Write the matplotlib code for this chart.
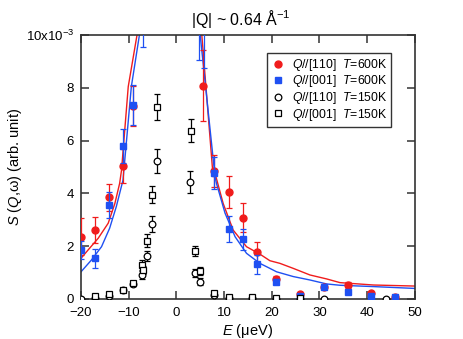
import matplotlib
matplotlib.use("Agg")
import matplotlib.pyplot as plt
from matplotlib.lines import Line2D

plt.rcParams["font.family"] = ["Liberation Sans", "DejaVu Sans"]
plt.rcParams["mathtext.fontset"] = "custom"
plt.rcParams["mathtext.rm"] = "Liberation Sans"
plt.rcParams["mathtext.it"] = "Liberation Sans:italic"

red = "#f01c1c"
blue = "#1f50f2"

# T=600K, Q//[110]
e_r110 = [-20, -17.1, -14.1, -11.1, -9.2, 5.6, 7.9, 11.0, 13.9, 17.0, 20.9, 25.9, 31.0, 36.0, 40.8, 45.8]
s_r110 = [2.36, 2.61, 3.85, 5.04, 7.3, 8.08, 4.85, 4.05, 3.08, 1.77, 0.77, 0.18, 0.44, 0.53, 0.22, 0.07]
d_r110 = [0.7, 0.5, 0.5, 0.65, 0.75, 1.35, 0.6, 0.6, 0.55, 0.4, 0.1, 0.05, 0.08, 0.1, 0.06, 0.03]

# T=600K, Q//[001]
e_b001 = [-20, -17.1, -14.1, -11.1, -9.0, -7.1, 4.7, 5.7, 7.9, 11.0, 13.9, 17.0, 20.9, 25.9, 31.0, 36.0, 40.8, 45.8]
s_b001 = [1.86, 1.54, 3.56, 5.8, 7.35, 11.0, 11.0, 10.2, 4.77, 2.64, 2.26, 1.31, 0.66, 0.11, 0.44, 0.28, 0.13, 0.07]
d_b001 = [0.35, 0.35, 0.5, 0.65, 0.75, 1.45, 1.95, 1.45, 0.6, 0.5, 0.4, 0.35, 0.08, 0.04, 0.06, 0.06, 0.04, 0.03]

# T=150K, Q//[110]
e_o110 = [-20, -17.1, -14.1, -11.1, -9.0, -7.2, -6.2, -5.1, -4.1, 2.85, 3.9, 4.95, 7.9, 11.0, 15.8, 20.9, 25.9, 31.0, 43.9]
s_o110 = [0.0, 0.05, 0.1, 0.34, 0.56, 0.91, 1.63, 2.83, 5.24, 4.44, 0.97, 0.66, 0.15, 0.05, 0.05, 0.0, 0.0, 0.0, 0.0]
d_o110 = [0.03, 0.04, 0.05, 0.06, 0.07, 0.15, 0.2, 0.3, 0.45, 0.42, 0.15, 0.12, 0.06, 0.04, 0.04, 0.02, 0.02, 0.02, 0.02]

# T=150K, Q//[001]
e_o001 = [-17.1, -14.1, -11.1, -9.0, -7.3, -7.0, -6.2, -5.1, -4.1, 3.0, 3.9, 4.95, 7.9, 11.0, 15.8, 20.9, 25.9]
s_o001 = [0.11, 0.19, 0.35, 0.6, 1.29, 1.1, 2.21, 3.94, 7.28, 6.38, 1.82, 1.07, 0.24, 0.09, 0.09, 0.02, 0.02]
d_o001 = [0.05, 0.06, 0.06, 0.07, 0.2, 0.15, 0.25, 0.32, 0.5, 0.45, 0.2, 0.15, 0.07, 0.04, 0.04, 0.02, 0.02]

# fitted curves
e_fit_r = [-20, -18.5, -16.4, -14.3, -12.9, -11.9, -11.5, -10.1, -8.2, -7.5,
           5.0, 5.3, 7.7, 8.1, 9.8, 11.9, 14.7, 17.5, 19.6, 21.7, 24.5, 28.0, 31.5, 34.3, 41.3, 50]
s_fit_r = [1.54, 1.86, 2.3, 2.87, 3.62, 4.38, 4.89, 8.04, 10.06, 12.0,
           12.0, 10.06, 4.63, 4.76, 3.62, 2.61, 1.98, 1.7, 1.45, 1.35, 1.16, 0.91, 0.76, 0.62, 0.53, 0.49]
e_fit_b = [-20, -17.8, -15.7, -14.0, -12.6, -11.2, -9.45, -7.7, -7.0,
           4.7, 4.95, 8.1, 8.4, 10.2, 12.3, 14.7, 17.5, 19.6, 21.0, 24.5, 28.0, 31.5, 34.3, 41.3, 50]
s_fit_b = [1.03, 1.48, 1.98, 2.68, 3.5, 4.5, 8.04, 10.06, 12.0,
           12.0, 10.06, 4.63, 4.38, 3.25, 2.36, 1.73, 1.35, 1.16, 1.03, 0.85, 0.72, 0.57, 0.52, 0.47, 0.4]

labels = ["$Q$//[110]  $T$=600K", "$Q$//[001]  $T$=600K",
          "$Q$//[110]  $T$=150K", "$Q$//[001]  $T$=150K"]

fig = plt.figure(figsize=(4.63, 3.39), dpi=100)
ax = fig.add_axes([0.175, 0.118, 0.721, 0.779])

ax.plot(e_fit_r, s_fit_r, color=red, lw=1.0, zorder=2)
ax.plot(e_fit_b, s_fit_b, color=blue, lw=1.0, zorder=2)

eb = dict(elinewidth=0.9, capsize=2.3, capthick=0.9)
ax.errorbar(e_r110, s_r110, yerr=d_r110, fmt="o", color=red, ms=5, mec=red, zorder=3, **eb)
ax.errorbar(e_b001, s_b001, yerr=d_b001, fmt="s", color=blue, ms=4.5, mec=blue, zorder=4, **eb)
ax.errorbar(e_o110, s_o110, yerr=d_o110, fmt="o", color="black", mfc="white", ms=4.8, mew=0.9,
            zorder=5, **eb)
ax.errorbar(e_o001, s_o001, yerr=d_o001, fmt="s", color="black", mfc="white", ms=4.3, mew=0.9,
            zorder=5, **eb)

ax.set_xlim(-20, 50)
ax.set_ylim(0, 10)
ax.set_xticks([-20, -10, 0, 10, 20, 30, 40, 50])
ax.set_yticks([0, 2, 4, 6, 8, 10])
ax.set_yticklabels(["0", "2", "4", "6", "8", "10x10$^{-3}$"])
ax.tick_params(direction="in", top=True, right=True, length=5.5, width=1.1,
               labelsize=9.5, color="#333333")
ax.tick_params(axis="x", pad=6)
ax.tick_params(axis="y", pad=5)
for sp in ax.spines.values():
    sp.set_linewidth(1.2)
    sp.set_color("#333333")

ax.set_xlabel("$E$ (μeV)", fontsize=10.5, labelpad=2)
ax.set_ylabel("$S$ ($Q$,ω) (arb. unit)", fontsize=10.5, labelpad=1)
fig.text(0.52, 0.945, "|Q| ~ 0.64 Å$^{-1}$", ha="center", va="center", fontsize=11.5)

handles = [
    Line2D([], [], ls="none", marker="o", color=red, ms=5),
    Line2D([], [], ls="none", marker="s", color=blue, ms=4.5),
    Line2D([], [], ls="none", marker="o", mec="black", mfc="white", ms=4.8, mew=0.9),
    Line2D([], [], ls="none", marker="s", mec="black", mfc="white", ms=4.3, mew=0.9),
]
leg = ax.legend(handles, labels, loc="upper left", bbox_to_anchor=(0.556, 0.933), borderaxespad=0,
                fontsize=8.8, frameon=True, fancybox=False, handletextpad=0.5,
                handlelength=1.2, labelspacing=0.05, borderpad=0.35)
leg.get_frame().set_edgecolor("black")
leg.get_frame().set_linewidth(1.0)

fig.savefig("out.png", dpi=100)
